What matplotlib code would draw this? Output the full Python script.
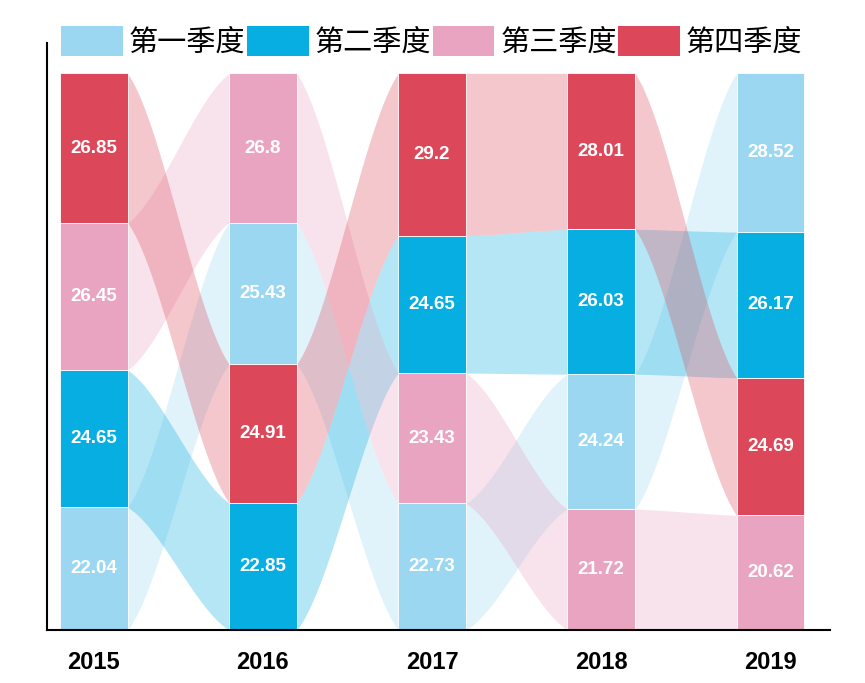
import numpy as np
import matplotlib.pyplot as plt
from matplotlib.patches import Patch

plt.rcParams['font.family'] = ['Noto Sans CJK SC', 'DejaVu Sans']

years = ['2015', '2016', '2017', '2018', '2019']
quarters = ['第一季度', '第二季度', '第三季度', '第四季度']
q1 = [22.04, 25.43, 22.73, 24.24, 28.52]
q2 = [24.65, 22.85, 24.65, 26.03, 26.17]
q3 = [26.45, 26.8, 23.43, 21.72, 20.62]
q4 = [26.85, 24.91, 29.2, 28.01, 24.69]
colors = ['#9bd7f1', '#07aee1', '#e9a4c1', '#dc4859']

vals = np.array([q1, q2, q3, q4])  # shape (quarter, year)
nq, ny = vals.shape
w = 0.4

# stack each year sorted ascending (smallest at the bottom)
bottoms = np.zeros_like(vals)
for j in range(ny):
    order = np.argsort(vals[:, j])
    acc = 0.0
    for q in order:
        bottoms[q, j] = acc
        acc += vals[q, j]
tops = bottoms + vals

fig = plt.figure(figsize=(8.65, 6.83), dpi=100)
ax = fig.add_axes([0.054, 0.0776, 0.906, 0.859])

# ribbons between neighbouring years
t = np.linspace(0, 1, 80)
s = 0.5 * t + 0.5 * (3 * t**2 - 2 * t**3)
for j in range(ny - 1):
    x0, x1 = j + w / 2, j + 1 - w / 2
    x = x0 + (x1 - x0) * t
    for q in range(nq):
        lo = bottoms[q, j] + (bottoms[q, j + 1] - bottoms[q, j]) * s
        hi = tops[q, j] + (tops[q, j + 1] - tops[q, j]) * s
        ax.fill_between(x, lo, hi, color=colors[q], alpha=0.3, lw=0, zorder=1)

xs = np.arange(ny)
for q in range(nq):
    ax.bar(xs, vals[q], width=w, bottom=bottoms[q], color=colors[q],
           edgecolor='white', linewidth=0.6, zorder=2)
    for j in range(ny):
        ax.text(xs[j], bottoms[q, j] + vals[q, j] / 2, f'{vals[q, j]:g}',
                ha='center', va='center', color='white', fontsize=13.5,
                fontweight='bold', family='Liberation Sans', zorder=3)

ax.set_xlim(-0.278, 4.355)
ax.set_ylim(0, 105.4)
ax.set_xticks(xs)
ax.set_xticklabels(years, fontsize=17, fontweight='bold', family='Liberation Sans')
ax.tick_params(axis='x', length=0, pad=15)
ax.set_yticks([])
for side in ['top', 'right']:
    ax.spines[side].set_visible(False)
for side in ['left', 'bottom']:
    ax.spines[side].set_linewidth(1.5)
    ax.spines[side].set_color('black')

handles = [Patch(facecolor=c, edgecolor='none') for c in colors]
fig.legend(handles, quarters, loc='upper left', bbox_to_anchor=(0.071, 0.962),
           ncol=4, frameon=False, fontsize=21, handlelength=2.12, handleheight=1.2,
           handletextpad=0.2, columnspacing=0.05, borderpad=0, borderaxespad=0)

fig.savefig('out.png', dpi=100)
